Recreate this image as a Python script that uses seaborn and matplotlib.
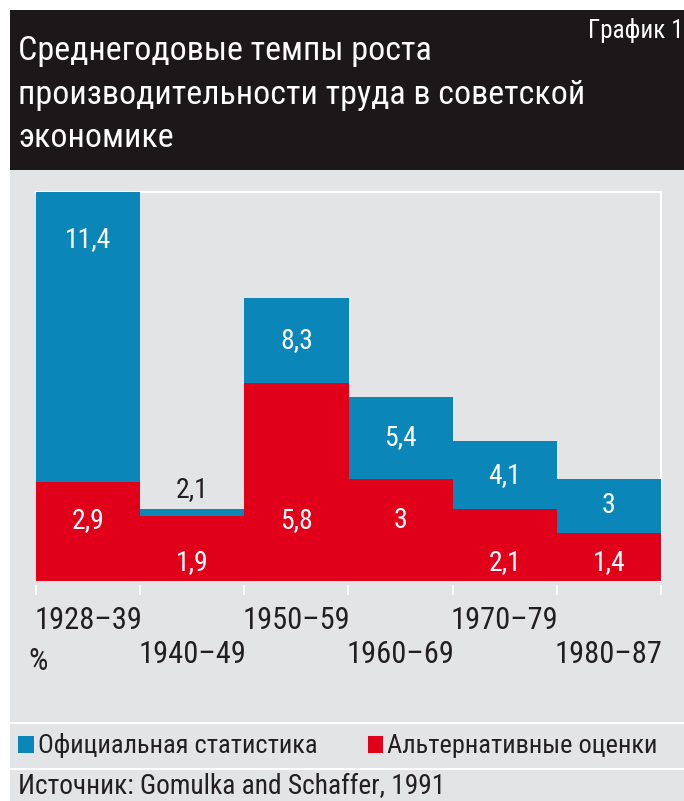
import matplotlib
matplotlib.use("Agg")
import matplotlib.pyplot as plt
import seaborn as sns
from matplotlib import font_manager as fm
from matplotlib.patches import Rectangle, Patch

# data
periods = ["1928–39", "1940–49", "1950–59", "1960–69", "1970–79", "1980–87"]
official = [11.4, 2.1, 8.3, 5.4, 4.1, 3.0]
alternative = [2.9, 1.9, 5.8, 3.0, 2.1, 1.4]
title_lines = ["Среднегодовые темпы роста",
               "производительности труда в советской",
               "экономике"]
legend_labels = ["Официальная статистика", "Альтернативные оценки"]
source = "Источник: Gomulka and Schaffer, 1991"

BLUE = "#0a86b9"
RED = "#e1001a"
BLACK = "#1c1819"
BG = "#e3e4e6"
DARK = "#231f20"

sns.set_style("white")
available = {f.name for f in fm.fontManager.ttflist}
font = next((f for f in ["Roboto Condensed", "PT Sans Narrow", "Open Sans Condensed"]
             if f in available), "DejaVu Sans")
plt.rcParams["font.family"] = [font, "DejaVu Sans"]

W, H = 684, 801
fx = lambda px: px / W
fy = lambda py: 1 - py / H

fig = plt.figure(figsize=(W / 100, H / 100), dpi=100)
fig.patch.set_facecolor("white")

# header + grey bands (white gaps between them)
for top, bot, col in [(10, 170, BLACK), (170, 722, BG), (724, 768, BG), (770, 801, BG)]:
    fig.add_artist(Rectangle((fx(10), fy(bot)), 1 - fx(10), fy(top) - fy(bot),
                             transform=fig.transFigure, color=col, lw=0, zorder=-10))

for line, base in zip(title_lines, [60, 104, 147]):
    fig.text(fx(18), fy(base), line, color="white", fontsize=24.5, va="baseline")
fig.text(fx(683), fy(38), "График 1", color="white", fontsize=18, va="baseline", ha="right")

ax = fig.add_axes([fx(36), fy(581), fx(661) - fx(36), fy(192) - fy(581)])
ax.patch.set_visible(False)

sns.barplot(x=periods, y=official, color=BLUE, width=1, saturation=1,
            linewidth=0, ax=ax)
sns.barplot(x=periods, y=alternative, color=RED, width=1, saturation=1,
            linewidth=0, ax=ax)
ax.set_xlim(-0.5, 5.5)
ax.set_ylim(0, 11.4)
ax.set_yticks([])

for i, (off, alt) in enumerate(zip(official, alternative)):
    if off - alt < 0.5:
        ax.text(i, off + 0.57, f"{off:g}".replace(".", ","), color=DARK,
                fontsize=20, ha="center", va="center")
    else:
        yb = max((off + alt) / 2, off - 1.4)
        ax.text(i, yb, f"{off:g}".replace(".", ","), color="white",
                fontsize=20, ha="center", va="center")
    yr = 1.78 if alt >= 2.5 else 0.53
    ax.text(i, yr, f"{alt:g}".replace(".", ","), color="white",
            fontsize=20, ha="center", va="center")

for side in ["left", "bottom"]:
    ax.spines[side].set_visible(False)
for side in ["top", "right"]:
    ax.spines[side].set_color("white")
    ax.spines[side].set_linewidth(1.5)
    ax.spines[side].set_zorder(0.5)
ax.spines["bottom"].set_position(("outward", 3))

ax.set_xticks([i - 0.5 for i in range(7)], minor=True)
ax.tick_params(axis="x", which="minor", bottom=True, length=7.5, width=1.2,
               color="white", direction="out")
ax.set_xticks(range(len(periods)))
ax.set_xticklabels(periods, fontsize=22, color=DARK)
ax.tick_params(axis="x", which="major", bottom=True, length=0)
for k, tick in enumerate(ax.xaxis.get_major_ticks()):
    tick.set_pad(15 if k % 2 == 0 else 39.5)
ax.set_xlabel("")

fig.text(fx(28), fy(662), "%", fontsize=22, color=DARK, va="center")

handles = [Patch(color=BLUE, lw=0), Patch(color=RED, lw=0)]
fig.legend(handles, legend_labels, loc="center left",
           bbox_to_anchor=(fx(18), fy(746)), ncol=2, frameon=False,
           fontsize=19, handlelength=0.6, handleheight=0.6, handletextpad=0.15,
           columnspacing=1.9, borderpad=0, borderaxespad=0, labelcolor=DARK)

fig.text(fx(18), fy(794), source, fontsize=19.7, color=DARK, va="baseline")

fig.savefig("out.png", dpi=100)
